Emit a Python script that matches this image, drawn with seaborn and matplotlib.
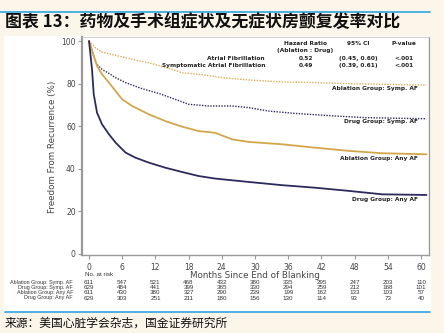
import numpy as np
import pandas as pd
import matplotlib
matplotlib.use("Agg")
import matplotlib.pyplot as plt
import matplotlib.transforms as mtransforms
from matplotlib.patches import Rectangle
from matplotlib.lines import Line2D
import seaborn as sns

# ---------------- data ----------------
title = "图表 13：药物及手术组症状及无症状房颤复发率对比"
source = "来源：美国心脏学会杂志，国金证券研究所"

abl_symp_t = [0, 1.1, 2.35, 4.8, 7.8, 10.8, 14.4, 16.8, 19.8, 24.1, 28.9, 34.9, 40.9, 47, 53, 61]
abl_symp_s = [100, 96.9, 94.8, 93.3, 91.4, 89.8, 87.2, 85.1, 84.4, 82.8, 81.7, 80.8, 80.5, 80.0, 79.7, 79.3]

drug_symp_t = [0, 0.85, 1.45, 2.35, 3.6, 4.8, 6.6, 9.6, 12.6, 15.6, 18, 21.6, 25.9, 28.9, 32.5, 37.3, 40.9, 44.5, 50, 61]
drug_symp_s = [100, 93, 89, 86.7, 84.8, 82.8, 80.5, 77.6, 75.4, 72.6, 70.3, 69.5, 69.5, 68.7, 67.1, 66.0, 65.4, 64.8, 64.0, 63.5]

abl_any_t = [0, 0.85, 1.45, 2.35, 3.6, 4.8, 6, 7.8, 10.8, 13.8, 16.8, 19.8, 22.8, 25.9, 28.9, 34.9, 40.9, 47, 53, 61]
abl_any_s = [100, 93, 88.3, 84.4, 80.5, 76.5, 72.6, 69.5, 65.6, 62.4, 59.8, 57.7, 56.9, 53.8, 52.6, 51.5, 49.9, 48.4, 47.3, 46.8]

drug_any_t = [0, 0.54, 0.85, 1.45, 2.35, 3.6, 4.8, 6.6, 8.4, 10.8, 13.8, 16.8, 19.8, 22.8, 28.9, 34.9, 40.9, 47, 53, 61]
drug_any_s = [100, 86.7, 75, 66.3, 60.9, 56.2, 52.3, 47.6, 45.2, 42.9, 40.5, 38.5, 36.6, 35.4, 33.8, 32.3, 31.1, 29.6, 28.0, 27.7]

series_names = ["Ablation Group: Symp. AF", "Drug Group: Symp. AF",
                "Ablation Group: Any AF", "Drug Group: Any AF"]

risk_months = [0, 6, 12, 18, 24, 30, 36, 42, 48, 54, 60]
risk_abl_symp = [611, 547, 521, 468, 432, 380, 335, 295, 247, 203, 110]
risk_drug_symp = [629, 484, 441, 399, 365, 330, 294, 259, 212, 168, 101]
risk_abl_any = [611, 430, 380, 327, 290, 239, 199, 162, 133, 103, 57]
risk_drug_any = [629, 303, 251, 211, 180, 156, 130, 114, 93, 73, 40]

hr_rows = ["Atrial Fibrillation", "Symptomatic Atrial Fibrillation"]
hr_values = ["0.52", "0.49"]
hr_ci = ["(0.45, 0.60)", "(0.39, 0.61)"]
hr_p = ["<.001", "<.001"]

# ---------------- style ----------------
sns.set_theme(style="white")
plt.rcParams["font.family"] = ["DejaVu Sans", "Noto Sans CJK SC"]

GOLD = "#D4A64A"
GOLD_L = "#D9AE55"
NAVY = "#2C2B5E"
BG = "#FCF5E9"
BLUE = "#2FA4E0"
GRAY = "#9A9A9A"

W, H = 444, 333
fig = plt.figure(figsize=(W / 100, H / 100), dpi=100, facecolor=BG)

# white panel
fig.patches.append(Rectangle((4 / W, 1 - 312 / H), (431 - 4) / W, (312 - 36) / H,
                             transform=fig.transFigure, facecolor="white",
                             edgecolor="none", zorder=-10))
# blue rules
fig.add_artist(Line2D([0 / W, 430 / W], [1 - 12 / H, 1 - 12 / H], color=BLUE, lw=1.2,
                      transform=fig.transFigure))
fig.add_artist(Line2D([5 / W, 430 / W], [1 - 312 / H, 1 - 312 / H], color=BLUE, lw=1.2,
                      transform=fig.transFigure))

fig.text(5 / W, 1 - 22 / H, title, fontsize=12.2, fontweight="bold", style="italic",
         family=["Noto Sans CJK SC", "DejaVu Sans"], va="center", ha="left", color="#111111")
fig.text(5 / W, 1 - 323 / H, source, fontsize=8.5,
         family=["Noto Sans CJK SC", "DejaVu Sans"], va="center", ha="left", color="#111111")

ax = fig.add_axes([82 / W, 1 - 255 / H, (429 - 82) / W, (255 - 37) / H])
ax.set_zorder(5)
ax.set_facecolor("white")

curves = [
    (abl_symp_t, abl_symp_s, GOLD_L, (0, (1.0, 1.0)), 1.0),
    (drug_symp_t, drug_symp_s, NAVY, (0, (1.0, 1.0)), 1.0),
    (abl_any_t, abl_any_s, GOLD, "-", 1.3),
    (drug_any_t, drug_any_s, NAVY, "-", 1.3),
]
for (t, s, c, ls, lw), name in zip(curves, series_names):
    df = pd.DataFrame({"month": t, "pct": s})
    sns.lineplot(data=df, x="month", y="pct", ax=ax, color=c, lw=lw,
                 linestyle=ls, legend=False)

ax.set_xlim(-1.27, 61.45)
ax.set_ylim(-0.5, 101.9)
ax.set_xticks(risk_months)
ax.set_yticks([0, 20, 40, 60, 80, 100])
ax.tick_params(axis="both", which="both", direction="out", length=3, width=0.8,
               color=GRAY, labelsize=5.5, labelcolor="#444444", left=True, bottom=True)
ax.tick_params(axis="x", pad=2.5)
ax.tick_params(axis="y", pad=1.5)
for sp in ["left", "bottom", "right", "top"]:
    ax.spines[sp].set_color(GRAY)
ax.spines["left"].set_linewidth(1.6)
ax.spines["bottom"].set_linewidth(1.0)
ax.spines["right"].set_linewidth(1.0)
ax.spines["top"].set_linewidth(0.6)
ax.spines["top"].set_color("#C8C8C8")

ax.set_xlabel("")
ax.set_ylabel("")
fig.text(52 / W, 1 - 147 / H, "Freedom From Recurrence (%)", rotation=90,
         fontsize=6.3, color="#444444", ha="center", va="center")
fig.text(255 / W, 1 - 276 / H, "Months Since End of Blanking", fontsize=6.3,
         color="#444444", ha="center", va="center")

# curve labels
lab_y = [77.5, 62.0, 44.6, 25.4]
for name, yv in zip(series_names, lab_y):
    ax.text(59.5, yv, name, fontsize=4.2, fontweight="bold", ha="right",
            va="center", color="#222222")

# hazard ratio table
def dx(px):
    return (px - 89) / 5.53

def dy(py):
    return (254 - py) / 2.13

hkw = dict(fontsize=4.2, fontweight="bold", color="#222222", va="center")
ax.text(dx(305), dy(43.5), "Hazard Ratio", ha="center", **hkw)
ax.text(dx(305), dy(50), "(Ablation : Drug)", ha="center", **hkw)
ax.text(dx(358), dy(43.5), "95% CI", ha="center", **hkw)
ax.text(dx(403.5), dy(43.5), "P-value", ha="center", **hkw)
for i, row in enumerate(hr_rows):
    yy = dy(58.7 + 6.6 * i)
    ax.text(dx(265), yy, row, ha="right", **hkw)
    ax.text(dx(306), yy, hr_values[i], ha="center", **hkw)
    ax.text(dx(358), yy, hr_ci[i], ha="center", **hkw)
    ax.text(dx(403.5), yy, hr_p[i], ha="center", **hkw)

# at-risk table
TF = ["Liberation Sans", "DejaVu Sans"]
blend = mtransforms.blended_transform_factory(ax.transData, fig.transFigure)
fig.text(85 / W, 1 - 275 / H, "No. at risk", fontsize=4.5, color="#333333",
         ha="left", va="center", family=TF)
risk_rows = [risk_abl_symp, risk_drug_symp, risk_abl_any, risk_drug_any]
row_y = [282.7, 287.7, 292.7, 298.0]
for name, vals, yp in zip(series_names, risk_rows, row_y):
    fig.text(73 / W, 1 - yp / H, name, fontsize=3.9, color="#333333",
             ha="right", va="center", family=TF)
    for m, v in zip(risk_months, vals):
        ax.text(m, 1 - yp / H, str(v), transform=blend, fontsize=4.5,
                color="#333333", ha="center", va="center", clip_on=False,
                family=TF)

fig.savefig("out.png", dpi=100, facecolor=BG)
